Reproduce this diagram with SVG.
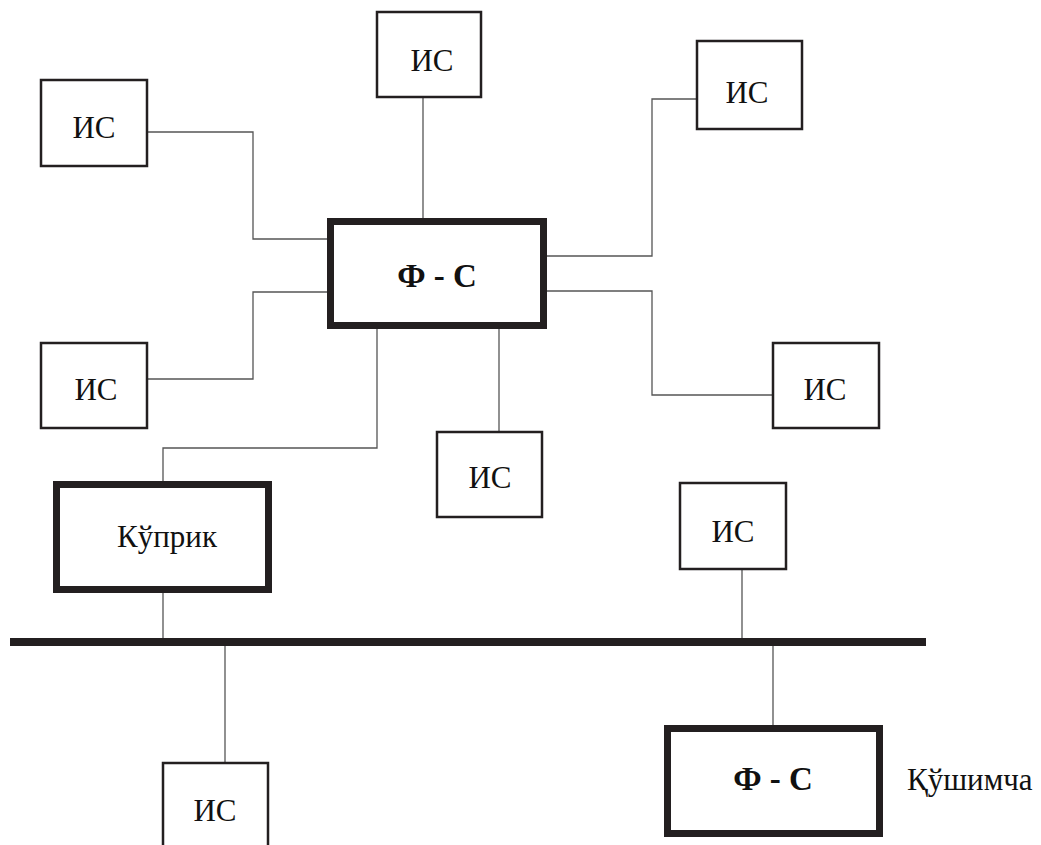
<svg xmlns="http://www.w3.org/2000/svg" width="1041" height="845" viewBox="0 0 1041 845">
<style>
.box{fill:#fff;stroke:#231f20;stroke-width:2.5}
.thick{fill:#fff;stroke:#231f20;stroke-width:7}
.ln{fill:none;stroke:#555;stroke-width:1.3}
.t{font-family:"Liberation Serif",serif;font-size:31px;fill:#111;text-anchor:middle}
.b{font-family:"Liberation Serif",serif;font-size:33px;font-weight:bold;fill:#111;text-anchor:middle}
</style>
<rect width="1041" height="845" fill="#fff"/>
<g id="connectors">
<path class="ln" d="M423 97V218"/>
<path class="ln" d="M147 132H253V239H327"/>
<path class="ln" d="M327 292H253V379H147"/>
<path class="ln" d="M547 256H652V99H697"/>
<path class="ln" d="M547 291H652V395H773"/>
<path class="ln" d="M499 329V432"/>
<path class="ln" d="M377 329V448H163V481"/>
<path class="ln" d="M163 593V638"/>
<path class="ln" d="M225 646V763"/>
<path class="ln" d="M742 569V638"/>
<path class="ln" d="M773 646V725"/>
</g>
<g id="bus"><rect x="10" y="638" width="916" height="8" fill="#231f20"/></g>
<g id="fs-main"><rect class="thick" x="330.5" y="221.5" width="213" height="104"/><text class="b" x="437" y="287">Ф - С</text></g>
<g id="is-top"><rect class="box" x="377" y="12" width="104" height="85"/><text class="t" x="432" y="71">ИС</text></g>
<g id="is-topleft"><rect class="box" x="41" y="80" width="106" height="86"/><text class="t" x="94" y="138">ИС</text></g>
<g id="is-left"><rect class="box" x="41" y="343" width="106" height="85"/><text class="t" x="96" y="400">ИС</text></g>
<g id="is-topright"><rect class="box" x="697" y="41" width="105" height="88"/><text class="t" x="747" y="103">ИС</text></g>
<g id="is-right"><rect class="box" x="773" y="343" width="106" height="85"/><text class="t" x="825" y="400">ИС</text></g>
<g id="is-mid"><rect class="box" x="437" y="432" width="105" height="85"/><text class="t" x="490" y="488">ИС</text></g>
<g id="bridge"><rect class="thick" x="56.5" y="484.5" width="212" height="105"/><text class="t" x="167" y="547">Кўприк</text></g>
<g id="is-busright"><rect class="box" x="680" y="483" width="106" height="86"/><text class="t" x="733" y="542">ИС</text></g>
<g id="is-bottom"><rect class="box" x="163" y="763" width="105" height="100"/><text class="t" x="215" y="821">ИС</text></g>
<g id="fs-extra"><rect class="thick" x="667.5" y="728.5" width="212" height="105"/><text class="b" x="773" y="790">Ф - С</text><text class="t" x="907" y="790" style="text-anchor:start">Қўшимча</text></g>
</svg>
